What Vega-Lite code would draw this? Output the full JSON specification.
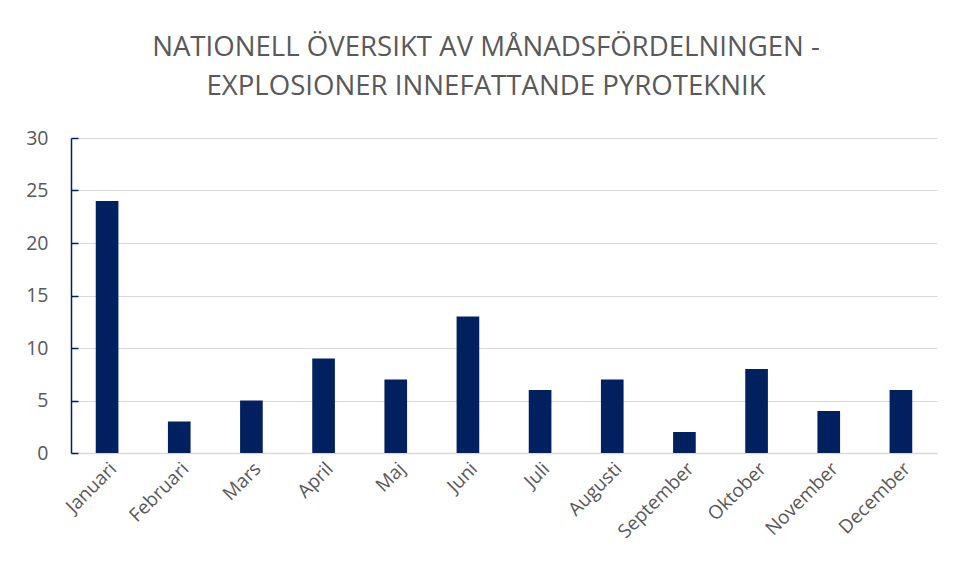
{
  "$schema": "https://vega.github.io/schema/vega-lite/v6.json",
  "autosize": "none",
  "width": 866,
  "height": 315,
  "padding": {"left": 71, "top": 138, "right": 18, "bottom": 126},
  "background": "white",
  "title": {
    "text": ["NATIONELL ÖVERSIKT AV MÅNADSFÖRDELNINGEN -", "EXPLOSIONER INNEFATTANDE PYROTEKNIK"],
    "font": "Open Sans",
    "fontSize": 27.6,
    "fontWeight": "normal",
    "color": "#595959",
    "anchor": "middle",
    "dx": -18,
    "offset": 27,
    "lineHeight": 39
  },
  "data": {
    "values": [
      {"month": "Januari", "count": 24},
      {"month": "Februari", "count": 3},
      {"month": "Mars", "count": 5},
      {"month": "April", "count": 9},
      {"month": "Maj", "count": 7},
      {"month": "Juni", "count": 13},
      {"month": "Juli", "count": 6},
      {"month": "Augusti", "count": 7},
      {"month": "September", "count": 2},
      {"month": "Oktober", "count": 8},
      {"month": "November", "count": 4},
      {"month": "December", "count": 6}
    ]
  },
  "mark": {"type": "bar", "color": "#002060"},
  "encoding": {
    "x": {
      "field": "month",
      "type": "nominal",
      "sort": null,
      "scale": {"paddingInner": 0.686, "paddingOuter": 0.343},
      "axis": {
        "title": null,
        "labelAngle": -45,
        "labelFont": "Open Sans",
        "labelFontSize": 19,
        "labelColor": "#595959",
        "ticks": false,
        "labelPadding": 6,
        "domainColor": "#d9d9d9",
        "domainWidth": 1.5
      }
    },
    "y": {
      "field": "count",
      "type": "quantitative",
      "scale": {"domain": [0, 30], "nice": false},
      "axis": {
        "title": null,
        "values": [0, 5, 10, 15, 20, 25, 30],
        "labelFont": "Open Sans",
        "labelFontSize": 19.5,
        "labelColor": "#595959",
        "domainColor": "#002060",
        "domainWidth": 1.5,
        "tickColor": "#002060",
        "tickWidth": 1.5,
        "tickSize": -7,
        "labelPadding": 30,
        "grid": true,
        "gridColor": "#d9d9d9",
        "gridWidth": 1.2
      }
    }
  },
  "config": {"view": {"stroke": null}}
}
